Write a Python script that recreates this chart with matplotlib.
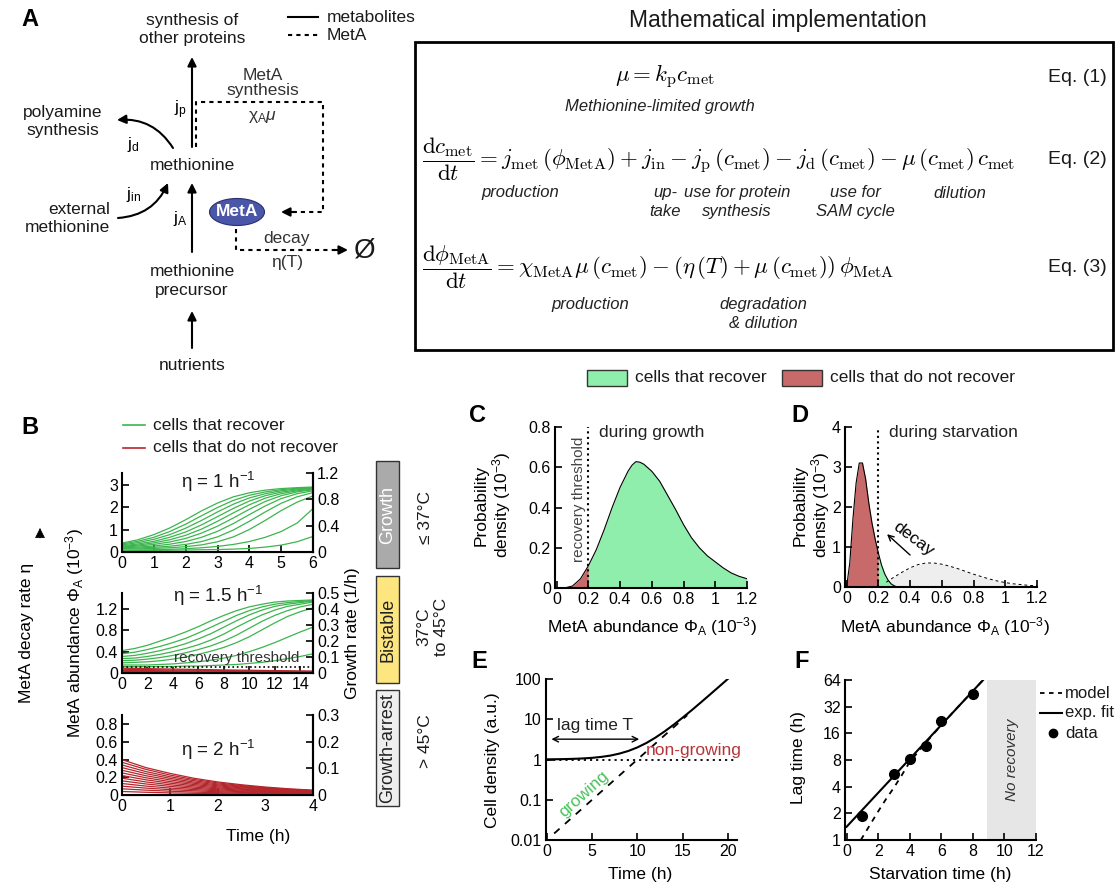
import numpy as np
import matplotlib
matplotlib.use('Agg')
import matplotlib.pyplot as plt
import matplotlib.ticker as ticker
from matplotlib.patches import Rectangle, Ellipse

W, H = 1119, 885

plt.rcParams['font.family'] = ['Liberation Sans', 'DejaVu Sans']
plt.rcParams['mathtext.fontset'] = 'custom'
plt.rcParams['mathtext.rm'] = 'Liberation Sans'
plt.rcParams['mathtext.it'] = 'Liberation Sans:italic'
plt.rcParams['mathtext.bf'] = 'Liberation Sans:bold'

GREEN = '#3cb54e'
RED = '#b5262c'
FILL_G = '#90eeac'
FILL_R = '#c96a6a'

# ---------------- datos panel B ----------------
# eta = 1 h^-1, t = 0..6
B1_t = [0, 0.5, 1, 1.5, 2, 2.5, 3, 3.5, 4, 4.5, 5, 5.5, 6]
B1_green = [
    [0.40, 0.55, 0.78, 1.08, 1.45, 1.85, 2.20, 2.48, 2.66, 2.78, 2.85, 2.89, 2.92],
    [0.36, 0.48, 0.66, 0.92, 1.25, 1.63, 2.00, 2.32, 2.55, 2.70, 2.80, 2.86, 2.90],
    [0.32, 0.42, 0.57, 0.78, 1.07, 1.42, 1.80, 2.15, 2.43, 2.62, 2.75, 2.83, 2.88],
    [0.28, 0.36, 0.48, 0.66, 0.90, 1.22, 1.59, 1.96, 2.29, 2.53, 2.69, 2.79, 2.86],
    [0.25, 0.31, 0.41, 0.55, 0.75, 1.03, 1.38, 1.76, 2.12, 2.42, 2.62, 2.75, 2.83],
    [0.22, 0.27, 0.34, 0.45, 0.61, 0.85, 1.16, 1.53, 1.92, 2.27, 2.53, 2.70, 2.80],
    [0.19, 0.22, 0.27, 0.35, 0.47, 0.66, 0.93, 1.28, 1.68, 2.07, 2.40, 2.62, 2.75],
    [0.16, 0.18, 0.21, 0.26, 0.34, 0.47, 0.68, 0.99, 1.38, 1.80, 2.19, 2.48, 2.67],
    [0.13, 0.14, 0.16, 0.19, 0.24, 0.32, 0.46, 0.68, 1.01, 1.42, 1.86, 2.24, 2.52],
    [0.08, 0.09, 0.10, 0.12, 0.15, 0.19, 0.25, 0.34, 0.47, 0.66, 0.92, 1.30, 1.95],
    [0.05, 0.06, 0.07, 0.08, 0.09, 0.10, 0.11, 0.13, 0.16, 0.22, 0.31, 0.46, 0.70],
]

# eta = 1.5 h^-1, t = 0..15
B2_t = list(range(16))
B2_green = [
    [0.42, 0.46, 0.52, 0.60, 0.68, 0.77, 0.87, 0.98, 1.08, 1.17, 1.24, 1.29, 1.33, 1.35, 1.36, 1.37],
    [0.36, 0.39, 0.44, 0.50, 0.57, 0.65, 0.75, 0.86, 0.97, 1.08, 1.17, 1.24, 1.29, 1.32, 1.34, 1.36],
    [0.31, 0.33, 0.37, 0.42, 0.48, 0.55, 0.64, 0.74, 0.86, 0.98, 1.09, 1.18, 1.25, 1.29, 1.32, 1.35],
    [0.27, 0.28, 0.31, 0.35, 0.40, 0.46, 0.53, 0.62, 0.73, 0.86, 0.98, 1.09, 1.18, 1.25, 1.29, 1.33],
    [0.23, 0.24, 0.26, 0.29, 0.33, 0.38, 0.44, 0.51, 0.60, 0.71, 0.84, 0.97, 1.08, 1.17, 1.24, 1.29],
    [0.19, 0.20, 0.21, 0.23, 0.26, 0.30, 0.35, 0.41, 0.48, 0.57, 0.68, 0.81, 0.94, 1.06, 1.15, 1.22],
    [0.15, 0.15, 0.15, 0.16, 0.17, 0.19, 0.21, 0.24, 0.28, 0.33, 0.40, 0.48, 0.57, 0.67, 0.77, 0.86],
    [0.12, 0.12, 0.12, 0.12, 0.12, 0.13, 0.13, 0.14, 0.15, 0.16, 0.18, 0.20, 0.23, 0.27, 0.31, 0.36],
]
B2_red = [
    [0.09, 0.086, 0.082, 0.078, 0.074, 0.070, 0.066, 0.062, 0.058, 0.055, 0.052, 0.048, 0.045, 0.042, 0.039, 0.036],
    [0.07, 0.067, 0.064, 0.060, 0.057, 0.054, 0.051, 0.048, 0.045, 0.042, 0.039, 0.036, 0.034, 0.031, 0.029, 0.027],
    [0.05, 0.048, 0.046, 0.043, 0.041, 0.039, 0.037, 0.035, 0.032, 0.030, 0.028, 0.026, 0.024, 0.022, 0.020, 0.019],
    [0.03, 0.029, 0.028, 0.026, 0.025, 0.024, 0.022, 0.021, 0.020, 0.018, 0.017, 0.016, 0.015, 0.014, 0.013, 0.012],
]
B2_threshold = 0.11

# eta = 2 h^-1, t = 0..4
B3_t = [0, 0.5, 1, 1.5, 2, 2.5, 3, 3.5, 4]
B3_red = [
    [0.40, 0.31, 0.245, 0.19, 0.148, 0.116, 0.090, 0.070, 0.055],
    [0.37, 0.29, 0.226, 0.176, 0.137, 0.107, 0.083, 0.065, 0.051],
    [0.34, 0.265, 0.207, 0.162, 0.126, 0.098, 0.077, 0.060, 0.047],
    [0.31, 0.242, 0.189, 0.147, 0.115, 0.090, 0.070, 0.055, 0.042],
    [0.28, 0.218, 0.171, 0.133, 0.104, 0.081, 0.063, 0.049, 0.038],
    [0.25, 0.195, 0.152, 0.119, 0.093, 0.072, 0.056, 0.044, 0.034],
    [0.22, 0.172, 0.134, 0.105, 0.081, 0.064, 0.050, 0.039, 0.030],
    [0.19, 0.148, 0.116, 0.090, 0.070, 0.055, 0.043, 0.033, 0.026],
    [0.16, 0.125, 0.098, 0.076, 0.059, 0.046, 0.036, 0.028, 0.022],
    [0.13, 0.101, 0.079, 0.062, 0.048, 0.038, 0.029, 0.023, 0.018],
    [0.10, 0.078, 0.061, 0.048, 0.037, 0.029, 0.023, 0.018, 0.014],
    [0.07, 0.055, 0.043, 0.033, 0.026, 0.020, 0.016, 0.012, 0.010],
    [0.04, 0.031, 0.024, 0.019, 0.015, 0.012, 0.009, 0.007, 0.005],
]

# ---------------- datos panel C y D ----------------
C_x = [0, 0.05, 0.1, 0.15, 0.2, 0.25, 0.3, 0.35, 0.4, 0.45, 0.475, 0.5, 0.525, 0.55, 0.6,
       0.65, 0.7, 0.75, 0.8, 0.85, 0.9, 0.95, 1.0, 1.05, 1.1, 1.15, 1.2]
C_y = [0, 0.0, 0.01, 0.045, 0.11, 0.19, 0.29, 0.40, 0.50, 0.58, 0.61, 0.628, 0.625, 0.615, 0.58,
       0.53, 0.46, 0.39, 0.315, 0.25, 0.20, 0.16, 0.13, 0.10, 0.075, 0.058, 0.046]
threshold = 0.2

D_x = [0, 0.02, 0.04, 0.06, 0.08, 0.1, 0.12, 0.14, 0.16, 0.18, 0.2,
       0.22, 0.24, 0.26, 0.28, 0.3, 0.32]
D_y = [0, 0.6, 1.7, 2.6, 3.1, 3.1, 2.7, 2.1, 1.6, 1.2, 0.85,
       0.55, 0.33, 0.18, 0.08, 0.03, 0.0]
D_old_x = [0.25, 0.3, 0.35, 0.4, 0.45, 0.5, 0.55, 0.6, 0.65, 0.7, 0.75, 0.8,
           0.85, 0.9, 0.95, 1.0, 1.05, 1.1, 1.15, 1.2]
D_old_y = [0.12, 0.25, 0.37, 0.48, 0.56, 0.60, 0.60, 0.57, 0.52, 0.46, 0.39, 0.32,
           0.26, 0.20, 0.15, 0.11, 0.08, 0.06, 0.04, 0.03]

# ---------------- datos panel E ----------------
E_t = list(range(21))
E_cells = [1.01, 1.016, 1.025, 1.04, 1.063, 1.1, 1.16, 1.25, 1.4, 1.63, 2.0,
           2.58, 3.51, 4.98, 7.31, 11.0, 16.8, 26.1, 40.8, 64.1, 101.0]
E_grow_t = [0.8, 15.5]
E_grow_y = [0.0145, 12.6]
E_flat_t = [0, 21]
E_flat_y = [1, 1]

# ---------------- datos panel F ----------------
F_data_t = [1, 3, 4, 5, 6, 8]
F_data_lag = [1.85, 5.5, 8.3, 11.5, 22, 45]
F_fit_t = [0, 8.65]
F_fit_lag = [1.41, 64]
F_model_t = [0.9, 1.5, 2, 2.5, 3, 3.5, 4, 5, 6, 7, 8, 8.65]
F_model_lag = [1.0, 1.5, 2.1, 2.9, 3.9, 5.4, 7.6, 12.4, 19.8, 31.0, 48.0, 64.0]
F_norecovery = [8.9, 12]


fig = plt.figure(figsize=(W / 100, H / 100), dpi=100)
fmt = ticker.FuncFormatter(lambda v, p: f'{v:g}')


# ejes a partir de coordenadas en pixeles (x0, y0 arriba-izquierda)
def px_axes(x0, y0, x1, y1):
    return fig.add_axes([x0 / W, 1 - y1 / H, (x1 - x0) / W, (y1 - y0) / H])


def style(ax, right=False):
    ax.spines['top'].set_visible(False)
    ax.spines['right'].set_visible(right)
    for s in ax.spines.values():
        s.set_linewidth(1.5)
    ax.tick_params(direction='in', length=5, width=1.2, labelsize=11.5, pad=3)
    ax.patch.set_alpha(0)
    ax.xaxis.set_major_formatter(fmt)
    ax.yaxis.set_major_formatter(fmt)


def twin(ax, lim, ticks):
    r = ax.twinx()
    r.set_ylim(*lim)
    r.set_yticks(ticks)
    r.yaxis.set_major_formatter(fmt)
    r.spines['top'].set_visible(False)
    r.spines['left'].set_visible(False)
    r.spines['right'].set_linewidth(1.5)
    r.tick_params(direction='in', length=5, width=1.2, labelsize=11.5, pad=3)
    return r


# ---------------- panel B ----------------
ax1 = px_axes(122, 473, 313, 552)
for c in B1_green:
    ax1.plot(B1_t, c, color=GREEN, lw=0.9)
ax1.set_xlim(0, 6)
ax1.set_ylim(0, 3.55)
ax1.set_xticks(range(7))
ax1.set_yticks([0, 1, 2, 3])
style(ax1, right=True)
twin(ax1, (0, 1.2), [0, 0.4, 0.8, 1.2])

ax2 = px_axes(122, 593, 313, 673)
for c in B2_green:
    ax2.plot(B2_t, c, color=GREEN, lw=0.9)
for c in B2_red:
    ax2.plot(B2_t, c, color=RED, lw=0.9)
ax2.axhline(B2_threshold, color='k', ls=':', lw=1.2)
ax2.text(9.0, 0.29, 'recovery threshold', fontsize=11, color='#333333',
         ha='center', va='center')
ax2.set_xlim(0, 15)
ax2.set_ylim(0, 1.5)
ax2.set_xticks(range(0, 15, 2))
ax2.set_yticks([0, 0.4, 0.8, 1.2])
style(ax2, right=True)
twin(ax2, (0, 0.5), [0, 0.1, 0.2, 0.3, 0.4, 0.5])

ax3 = px_axes(122, 715, 313, 795)
for c in B3_red:
    ax3.plot(B3_t, c, color=RED, lw=0.9)
ax3.set_xlim(0, 4)
ax3.set_ylim(0, 0.905)
ax3.set_xticks(range(5))
ax3.set_yticks([0, 0.2, 0.4, 0.6, 0.8])
style(ax3, right=True)
twin(ax3, (0, 0.3), [0, 0.1, 0.2, 0.3])

# ---------------- panel C ----------------
axC = px_axes(555, 427, 747, 588)
cx = np.array(C_x)
cy = np.array(C_y)
axC.fill_between(cx, cy, where=cx <= threshold, color=FILL_R, lw=0)
axC.fill_between(cx, cy, where=cx >= threshold, color=FILL_G, lw=0)
axC.plot(cx, cy, color='k', lw=0.8)
axC.plot([threshold, threshold], [0, 0.8], color='k', ls=':', lw=1.5)
axC.text(0.14, 0.44, 'recovery threshold', rotation=90, fontsize=11,
         color='#444444', ha='center', va='center')
axC.text(0.265, 0.775, 'during growth', fontsize=12.5, ha='left', va='center',
         color='#222222')
axC.set_xlim(-0.01, 1.2)
axC.set_ylim(0, 0.8)
axC.set_xticks([0, 0.2, 0.4, 0.6, 0.8, 1, 1.2])
axC.set_yticks([0, 0.2, 0.4, 0.6, 0.8])
style(axC)

# ---------------- panel D ----------------
axD = px_axes(845, 427, 1037, 587)
dx = np.array(D_x)
dy = np.array(D_y)
axD.fill_between(D_old_x, D_old_y, color='#eeeeee', lw=0)
axD.plot(D_old_x, D_old_y, color='k', lw=0.7, ls=(0, (3, 3)))
axD.fill_between(dx, dy, where=dx <= threshold, color=FILL_R, lw=0)
axD.fill_between(dx, dy, where=dx >= threshold, color=FILL_G, lw=0)
axD.plot(dx, dy, color='k', lw=0.8)
axD.plot([threshold, threshold], [0, 4], color='k', ls=':', lw=1.5)
axD.text(0.265, 3.87, 'during starvation', fontsize=12.5, ha='left', va='center',
         color='#222222')
axD.text(0.42, 1.2, 'decay', rotation=-37, fontsize=12.5, ha='center', va='center')
axD.annotate('', xy=(0.255, 1.32), xytext=(0.40, 0.80),
             arrowprops=dict(arrowstyle='->', color='k', lw=1.0,
                             shrinkA=0, shrinkB=0))
axD.set_xlim(-0.01, 1.2)
axD.set_ylim(0, 4)
axD.set_xticks([0, 0.2, 0.4, 0.6, 0.8, 1, 1.2])
axD.set_yticks([0, 1, 2, 3, 4])
style(axD)

# ---------------- panel E ----------------
axE = px_axes(546, 679, 737, 840)
axE.set_yscale('log')
axE.plot(E_grow_t, E_grow_y, color='k', lw=1.3, ls=(0, (4, 4)))
axE.plot(E_flat_t, E_flat_y, color='k', lw=1.3, ls=(0, (1.2, 2.2)))
axE.plot(E_t, E_cells, color='k', lw=1.5)
axE.annotate('', xy=(10.2, 3.2), xytext=(0.5, 3.2),
             arrowprops=dict(arrowstyle='<->', color='k', lw=1.0,
                             shrinkA=0, shrinkB=0))
axE.text(5.3, 6.9, 'lag time T', fontsize=12.5, ha='center', va='center',
         color='#222222')
axE.text(10.9, 1.65, 'non-growing', fontsize=12.5, color='#b5363a',
         ha='left', va='center')
axE.text(4.1, 0.14, 'growing', fontsize=12.5, color='#45c35a', rotation=42,
         ha='center', va='center')
axE.set_xlim(-0.1, 21)
axE.set_ylim(0.01, 100)
axE.set_xticks([0, 5, 10, 15, 20])
axE.set_yticks([0.01, 0.1, 1, 10, 100])
axE.yaxis.set_minor_locator(ticker.NullLocator())
style(axE)

# ---------------- panel F ----------------
axF = px_axes(845, 680, 1036, 840)
axF.set_yscale('log', base=2)
axF.axvspan(F_norecovery[0], F_norecovery[1], color='#e6e6e6', lw=0)
axF.text(10.45, 8, 'No recovery', rotation=90, style='italic', fontsize=11,
         color='#333333', ha='center', va='center')
axF.plot(F_model_t, F_model_lag, color='k', lw=1.3, ls=(0, (3, 3)))
axF.plot(F_fit_t, F_fit_lag, color='k', lw=1.5)
axF.plot(F_data_t, F_data_lag, 'o', color='k', ms=7)
axF.set_xlim(-0.1, 12)
axF.set_ylim(1, 64)
axF.set_xticks(range(0, 13, 2))
axF.set_yticks([1, 2, 4, 8, 16, 32, 64])
axF.yaxis.set_minor_locator(ticker.NullLocator())
style(axF)

# ---------------- lienzo con textos y diagrama ----------------
cv = fig.add_axes([0, 0, 1, 1])
cv.set_xlim(0, W)
cv.set_ylim(H, 0)
cv.axis('off')

TXT = '#1a1a1a'


def arrow(p0, p1, rad=0.0, ls='-'):
    cv.annotate('', xy=p1, xytext=p0,
                arrowprops=dict(arrowstyle='-|>', color='k', lw=1.5,
                                mutation_scale=13, shrinkA=0, shrinkB=0,
                                connectionstyle=f'arc3,rad={rad}', linestyle=ls))


# letras de panel
panel_letters = [('A', 30, 20), ('B', 30, 427), ('C', 477, 415), ('D', 800, 415),
                 ('E', 479, 661), ('F', 802, 661)]
for lab, x, y in panel_letters:
    cv.text(x, y, lab, fontsize=17, fontweight='bold', ha='center', va='center')

# panel A: diagrama
fs = 12.5
cv.text(192, 30, 'synthesis of\nother proteins', fontsize=fs, ha='center', va='center',
        color=TXT, linespacing=1.25)
cv.text(63, 122, 'polyamine\nsynthesis', fontsize=fs, ha='center', va='center',
        color=TXT, linespacing=1.25)
cv.text(192, 165, 'methionine', fontsize=fs, ha='center', va='center', color=TXT)
cv.text(110, 219, 'external\nmethionine', fontsize=fs, ha='right', va='center',
        color=TXT, linespacing=1.25, multialignment='right')
cv.text(192, 281, 'methionine\nprecursor', fontsize=fs, ha='center', va='center',
        color=TXT, linespacing=1.25)
cv.text(192, 365, 'nutrients', fontsize=fs, ha='center', va='center', color=TXT)
cv.text(263, 83, 'MetA\nsynthesis', fontsize=fs, ha='center', va='center',
        color='#333333', linespacing=1.0)
cv.text(263, 117, 'χ$_\\mathrm{A}$$\\mu$', fontsize=fs, ha='center', va='center',
        color='#333333')
cv.text(287, 239, 'decay', fontsize=fs, ha='center', va='center', color='#333333')
cv.text(287, 263, 'η(T)', fontsize=fs, ha='center', va='center', color='#333333')
cv.text(365, 251, 'Ø', fontsize=20, ha='center', va='center', color=TXT)
cv.text(180, 110, 'j$_\\mathrm{p}$', fontsize=fs, ha='center', va='center')
cv.text(133, 145, 'j$_\\mathrm{d}$', fontsize=fs, ha='center', va='center')
cv.text(134, 194, 'j$_\\mathrm{in}$', fontsize=fs, ha='center', va='center')
cv.text(180, 218, 'j$_\\mathrm{A}$', fontsize=fs, ha='center', va='center')

arrow((192, 147), (192, 57))
arrow((192, 252), (192, 183))
arrow((192, 348), (192, 311))
arrow((173, 148), (117, 120), rad=0.3)
arrow((118, 218), (168, 183), rad=0.3)

# linea MetA synthesis
cv.plot([196, 196, 323, 323, 295], [147, 102, 102, 212, 212], color='k', lw=1.5,
        ls=(0, (2, 2)))
arrow((296, 212), (281, 212))
# linea decay
cv.plot([236, 236, 335], [229, 250, 250], color='k', lw=1.5, ls=(0, (2, 2)))
arrow((334, 250), (348, 250))
cv.add_patch(Ellipse((237, 212), 55, 27, fc='#4a56a8', ec='#2a3070', lw=0.8))
cv.text(237, 212, 'MetA', fontsize=12.5, fontweight='bold', color='white',
        ha='center', va='center')

# leyenda del diagrama
cv.plot([288, 318], [17, 17], color='k', lw=1.5)
cv.plot([288, 318], [35, 35], color='k', lw=1.5, ls=(0, (2, 2)))
cv.text(327, 17, 'metabolites', fontsize=fs, ha='left', va='center', color=TXT)
cv.text(327, 35, 'MetA', fontsize=fs, ha='left', va='center', color=TXT)

# implementacion matematica
cv.text(778, 20, 'Mathematical implementation', fontsize=16.5, ha='center',
        va='center', color=TXT)
cv.add_patch(Rectangle((415, 42), 698, 308, fill=False, ec='k', lw=2))
eq1 = r'$\mu = k_{\mathrm{p}} c_{\mathrm{met}}$'
eq2 = (r'$\dfrac{\mathrm{d}c_{\mathrm{met}}}{\mathrm{d}t} = j_{\mathrm{met}}'
       r'\,(\phi_{\mathrm{MetA}}) + j_{\mathrm{in}} - j_{\mathrm{p}}'
       r'\,(c_{\mathrm{met}}) - j_{\mathrm{d}}\,(c_{\mathrm{met}})'
       r' - \mu\,(c_{\mathrm{met}})\,c_{\mathrm{met}}$')
eq3 = (r'$\dfrac{\mathrm{d}\phi_{\mathrm{MetA}}}{\mathrm{d}t} = \chi_{\mathrm{MetA}}'
       r'\mu\,(c_{\mathrm{met}}) - (\eta\,(T) + '
       r'\mu\,(c_{\mathrm{met}}))\,\phi_{\mathrm{MetA}}$')
cv.text(665, 77, eq1, fontsize=16.5, ha='center', va='center', math_fontfamily='cm')
cv.text(422, 159, eq2, fontsize=16.5, ha='left', va='center', math_fontfamily='cm')
cv.text(422, 267, eq3, fontsize=16.5, ha='left', va='center', math_fontfamily='cm')
for lab, y in [('Eq. (1)', 77), ('Eq. (2)', 160), ('Eq. (3)', 268)]:
    cv.text(1077, y, lab, fontsize=14, ha='center', va='center', color=TXT)

eq_notes = [('Methionine-limited growth', 660, 106),
            ('production', 520, 192), ('up-\ntake', 665, 202),
            ('use for protein\nsynthesis', 737, 202), ('use for\nSAM cycle', 855, 202),
            ('dilution', 960, 194),
            ('production', 590, 304), ('degradation\n& dilution', 763, 314)]
for lab, x, y in eq_notes:
    cv.text(x, y, lab, fontsize=12, style='italic', ha='center', va='center',
            color='#222222', linespacing=1.35)

# leyenda C/D
cv.add_patch(Rectangle((587, 370), 40, 16, fc=FILL_G, ec='#333333', lw=1))
cv.add_patch(Rectangle((782, 370), 40, 16, fc=FILL_R, ec='#333333', lw=1))
cv.text(635, 378, 'cells that recover', fontsize=12.5, ha='left', va='center', color=TXT)
cv.text(830, 378, 'cells that do not recover', fontsize=12.5, ha='left', va='center',
        color=TXT)

# leyenda B
cv.plot([123, 145], [425, 425], color=GREEN, lw=1.2)
cv.plot([123, 145], [448, 448], color=RED, lw=1.2)
cv.text(153, 425, 'cells that recover', fontsize=12.5, ha='left', va='center', color=TXT)
cv.text(153, 448, 'cells that do not recover', fontsize=12.5, ha='left', va='center',
        color=TXT)

# titulos de subgraficos B
for lab, y in [('η = 1 h$^{-1}$', 482), ('η = 1.5 h$^{-1}$', 596), ('η = 2 h$^{-1}$', 750)]:
    cv.text(218, y, lab, fontsize=13.5, ha='center', va='center', color=TXT)

# etiquetas de ejes
cv.text(75, 633, 'MetA abundance Φ$_\\mathrm{A}$ (10$^{-3}$)', rotation=90, fontsize=12.5,
        ha='center', va='center')
cv.text(352, 633, 'Growth rate (1/h)', rotation=90, fontsize=12.5, ha='center',
        va='center')
cv.text(27, 633, 'MetA decay rate η', rotation=90, fontsize=12.5, ha='center',
        va='center')
cv.annotate('', xy=(40, 528), xytext=(40, 538),
            arrowprops=dict(arrowstyle='-|>', color='k', lw=0.5, mutation_scale=16,
                            shrinkA=0, shrinkB=0))
cv.text(258, 836, 'Time (h)', fontsize=12.5, ha='center', va='center')

# regimenes
regimes = [('Growth', 461, 107, '#aaaaaa', 'white'),
           ('Bistable', 576, 107, '#fde57f', '#222222'),
           ('Growth-arrest', 690, 116, '#eeeeee', '#222222')]
for lab, y0, h, fc, tc in regimes:
    cv.add_patch(Rectangle((376, y0), 23, h, fc=fc, ec='#333333', lw=1))
    cv.text(387.5, y0 + h / 2, lab, rotation=90, fontsize=13, color=tc,
            ha='center', va='center')
temps = [('≤ 37°C', 425, 517), ('37°C\nto 45°C', 433, 627), ('> 45°C', 425, 741)]
for lab, x, y in temps:
    cv.text(x, y, lab, rotation=90, fontsize=12.5, ha='center', va='center',
            color=TXT, linespacing=1.2)

# etiquetas C-F
for x in [493, 812]:
    cv.text(x, 505, 'Probability\ndensity (10$^{-3}$)', rotation=90, fontsize=12.5,
            ha='center', va='center', linespacing=1.1)
for x in [652, 945]:
    cv.text(x, 627, 'MetA abundance Φ$_\\mathrm{A}$ (10$^{-3}$)', fontsize=12.5,
            ha='center', va='center')
cv.text(492, 760, 'Cell density (a.u.)', rotation=90, fontsize=12.5, ha='center',
        va='center')
cv.text(640, 875, 'Time (h)', fontsize=12.5, ha='center', va='center')
cv.text(799, 758, 'Lag time (h)', rotation=90, fontsize=12.5, ha='center', va='center')
cv.text(940, 875, 'Starvation time (h)', fontsize=12.5, ha='center', va='center')

# leyenda F
cv.plot([1040, 1062], [693, 693], color='k', lw=1.3, ls=(0, (2.5, 2.5)))
cv.plot([1040, 1062], [713, 713], color='k', lw=1.5)
cv.plot([1053], [733], 'o', color='k', ms=6)
cv.text(1065, 693, 'model', fontsize=12, ha='left', va='center', color=TXT)
cv.text(1065, 713, 'exp. fit', fontsize=12, ha='left', va='center', color=TXT)
cv.text(1065, 733, 'data', fontsize=12, ha='left', va='center', color=TXT)

fig.savefig('out.png', dpi=100)
